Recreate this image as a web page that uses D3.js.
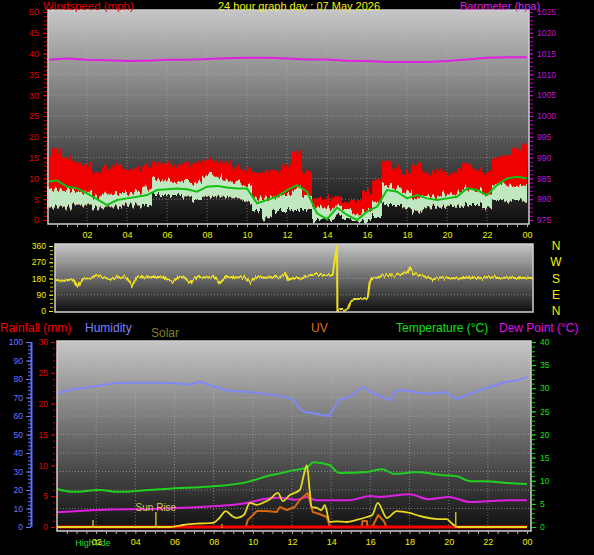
<!DOCTYPE html>
<html>
<head>
<meta charset="utf-8">
<script src="https://cdn.jsdelivr.net/npm/d3@7"></script>
<style>
  body { margin: 0; background: #000; }
  svg { display: block; font-family: "Liberation Sans", Arial, sans-serif; }
</style>
</head>
<body>
<div class="chart"></div>
<script>
// ---- data ----
var title = "24 hour graph day : 07 May 2026";

// top panel, half hourly 00:00 .. 24:00 (mph)
var halfHours = d3.range(0, 24.5, 0.5);
var gust = [16,17,14.8,14,13.2,11.6,12.8,13.2,12.4,12.4,12.8,13.6,14,13.2,13.6,14,14.4,14,13.6,12.8,12.4,10.8,11.6,11.6,13.2,16.4,11.6,5.2,5.2,5.6,4.4,4.8,6.8,9.2,14,12.4,11.6,13.2,11.6,12,11.6,11.6,13.2,12.4,11.6,14.8,15.6,17.2,18];
var windHi = [8,7.5,7.2,7,6.8,5.6,6.4,6.5,6.5,6.8,7.6,9.6,10,9.2,9.4,9.2,10.8,10.4,9.2,9.2,8.4,5.2,5.2,5.6,6,7.6,6,3.2,2.8,3.2,2.4,1.6,2.4,4.4,8.4,7.6,6.8,5.2,6,5.6,6.4,6.4,7.6,7.2,6.4,8.4,8.8,8.4,8.4];
var windLo = [3,3,3,3.5,3.5,2.8,3,3,3.5,3.5,3.6,6,6,6,5.6,4.8,5.6,5.6,5.6,5.2,4.4,2.4,0.4,2.4,2.4,2.4,2.4,0,0,0.8,0,0,0,1.2,3.6,3.6,2.8,2,2.8,3.2,3.2,3.2,3.6,3.6,2.8,4.8,4.4,4.8,4.4];
var windAvg = [9.2,9.5,8,7.6,6.4,5,3.6,4.8,5.2,5.6,6,7.2,7.4,7.6,7.4,6.8,8,8.2,7.8,7.6,7.6,4,4.8,5.6,7.2,8.4,6.8,1.6,0.2,3,1.2,0,2,3.2,7.2,6.8,5.2,6,5.2,4.8,5.2,5.6,7.6,7.2,6,8.4,10,10.4,10];

// barometer, hourly (hpa)
var hours = d3.range(0, 25, 1);
var baro = [1013.5,1013.8,1013.5,1013.4,1013.2,1013.3,1013.5,1013.5,1013.7,1013.9,1014.0,1014.0,1013.8,1013.6,1013.6,1013.3,1013.2,1013.0,1013.0,1013.0,1013.2,1013.6,1014.0,1014.1,1014.1];

// wind direction [hour, degrees]
var windDir = [[0,172],[0.5,168],[0.9,176],[1.15,135],[1.4,178],[1.8,182],[2.1,200],[2.4,186],[2.8,176],[3.2,188],[3.6,184],[3.87,138],[4.1,190],[4.6,186],[5.1,190],[5.5,184],[5.92,160],[6.2,190],[6.5,186],[6.78,155],[7.1,190],[7.6,186],[8.0,190],[8.28,155],[8.6,190],[9.1,186],[9.5,190],[9.79,160],[10.1,188],[10.6,184],[11.0,190],[11.3,186],[11.55,210],[11.7,172],[12.0,184],[12.4,180],[12.8,200],[13.3,200],[13.95,200],[14.06,293],[14.16,360],[14.18,0],[14.4,5],[14.7,8],[14.85,50],[15.0,66],[15.4,68],[15.7,72],[15.8,155],[15.9,183],[16.2,186],[16.6,200],[17.0,195],[17.4,205],[17.7,215],[17.8,238],[18.0,205],[18.3,200],[18.6,190],[19.0,176],[19.3,186],[19.8,183],[20.3,180],[20.8,186],[21.3,182],[21.8,188],[22.3,183],[22.8,186],[23.3,182],[23.8,185],[24,182]];
var compass = ["N","W","S","E","N"];
var compassDeg = [360,270,180,90,0];

// bottom panel [hour, value]
var humidity = [[0,72.4],[0.8,74.5],[1.7,75.7],[3,77.8],[4.2,78],[5.5,78],[6.8,77],[7.3,78.5],[8.1,75.7],[8.8,73.5],[9.9,73],[10.6,72],[11.4,71],[12.1,68.6],[12.4,63.8],[12.7,62],[13.1,61.6],[13.5,60.5],[13.9,60],[14.4,68.6],[15,70.8],[15.6,75.7],[16.2,72],[17,68.6],[17.35,74],[18,73.5],[18.5,72.4],[19,72],[19.8,73],[20.4,69.2],[21.1,72],[21.9,75],[22.9,78.4],[23.6,79.5],[24,81]];
var temperature = [[0,8.2],[0.8,7.6],[2.2,8],[3.1,7.6],[4.7,8],[6,8.4],[7.3,8.6],[8.3,8.9],[9.7,9.7],[10.9,11.2],[11.5,11.7],[12.1,12.3],[12.75,12.8],[13.1,14],[13.9,13.4],[14.4,11.7],[15.8,11.9],[16.6,12.5],[17.2,11.5],[18.4,11.9],[19.7,11.2],[20.4,11],[21.1,9.9],[21.9,9.9],[23,9.5],[24,9.3]];
var dewPoint = [[0,3.2],[2.2,3.7],[4.7,3.9],[7.3,4.3],[9.7,5.2],[10.5,6],[11.4,6.3],[12.2,5.9],[12.8,6.5],[13.2,5.8],[13.9,5.8],[14.9,5.8],[16,6.7],[16.5,6.5],[18,7.1],[19,6],[20,6.5],[21.1,5.4],[22.1,5.6],[23.1,5.8],[24,5.8]];
var solar = [[0,0],[5.77,0],[6.28,8],[6.79,16],[7.3,19],[7.96,22],[8.3,50],[8.62,86],[8.93,60],[9.18,49],[9.54,65],[9.85,130],[10.2,120],[10.5,130],[10.87,150],[11.28,184],[11.53,140],[11.89,173],[12.4,200],[12.6,280],[12.76,335],[12.9,200],[13.0,108],[13.27,103],[13.5,90],[13.67,118],[13.93,27],[14.29,30],[14.8,27],[15.3,38],[15.82,54],[16.1,65],[16.38,130],[16.84,49],[17.35,86],[18.0,76],[18.5,60],[19.5,43],[19.9,43],[20.15,20],[20.45,0],[24,0]];
var uv = [[0,0],[9.64,0],[9.74,0.38],[10.2,0.86],[10.7,0.86],[11.22,0.81],[11.38,1.08],[11.73,0.92],[12.14,1.08],[12.4,1.46],[12.8,1.84],[13.06,0.81],[13.4,0.7],[13.78,0.54],[13.93,0],[15.56,0],[15.6,0.32],[15.82,0.32],[15.86,0],[16.1,0],[16.4,0.65],[16.7,0.3],[16.82,0],[24,0]];
var rainfall = [[0,0],[24,0]];
var events = [
  { hour: 1.84, kind: "tide", label: "HighTide" },
  { hour: 5.05, kind: "sun", label: "Sun Rise" },
  { hour: 8.42, kind: "low", label: "" },
  { hour: 20.36, kind: "sun", label: "" }
];

// ---- drawing ----
var svg = d3.select(".chart").append("svg")
  .attr("width", 594)
  .attr("height", 555);

var defs = svg.append("defs");
var grad = defs.append("linearGradient")
  .attr("id", "panelBg")
  .attr("x1", 0).attr("y1", 0).attr("x2", 0).attr("y2", 1);
grad.append("stop").attr("offset", "0%").attr("stop-color", "#c6c6c6");
grad.append("stop").attr("offset", "50%").attr("stop-color", "#6a6a6a");
grad.append("stop").attr("offset", "100%").attr("stop-color", "#0e0e0e");

// jagged look for the noisy sensor data
function jagFilter(id, freq, scale, seed) {
  var f = defs.append("filter").attr("id", id)
    .attr("x", "-0.02").attr("y", "-0.3").attr("width", "1.04").attr("height", "1.6");
  f.append("feTurbulence").attr("type", "fractalNoise")
    .attr("baseFrequency", freq).attr("numOctaves", 1).attr("seed", seed).attr("result", "n");
  f.append("feColorMatrix").attr("in", "n").attr("type", "matrix")
    .attr("values", "1 0 0 0 0  0 0 0 0 0.5  0 0 1 0 0  0 0 0 0 1").attr("result", "m");
  f.append("feDisplacementMap").attr("in", "SourceGraphic").attr("in2", "m")
    .attr("scale", scale).attr("xChannelSelector", "G").attr("yChannelSelector", "R");
}
jagFilter("jag", "0.4 0.02", 15, 7);
jagFilter("jagDir", "0.5 0.05", 7, 3);

function styleAxis(g, color, size) {
  g.select(".domain").remove();
  g.selectAll("line").attr("stroke", color);
  g.selectAll("text").attr("fill", color).style("font-size", (size || 9) + "px");
}

function hourFmt(h) {
  return d3.format("02")(h % 24);
}

function panel(x, y, w, h) {
  svg.append("rect")
    .attr("x", x).attr("y", y).attr("width", w).attr("height", h)
    .attr("fill", "url(#panelBg)");
}

function frame(x, y, w, h) {
  svg.append("rect")
    .attr("x", x).attr("y", y).attr("width", w).attr("height", h)
    .attr("fill", "none")
    .attr("stroke", "#d0d0d0")
    .attr("stroke-width", 1.5);
}

function grid(xs, ys, xScale, yScale, x0, x1, y0, y1) {
  var gg = svg.append("g")
    .attr("stroke", "#b8b8b8")
    .attr("stroke-opacity", 0.55)
    .attr("stroke-dasharray", "1,2");
  gg.selectAll(".vg").data(xs).enter().append("line")
    .attr("x1", d => xScale(d)).attr("x2", d => xScale(d))
    .attr("y1", y0).attr("y2", y1);
  gg.selectAll(".hg").data(ys).enter().append("line")
    .attr("x1", x0).attr("x2", x1)
    .attr("y1", d => yScale(d)).attr("y2", d => yScale(d));
}

// ================= top panel =================
var xTop = d3.scaleLinear().domain([0, 24]).range([47, 527]);
var yWind = d3.scaleLinear().domain([0, 50]).range([220, 12]);
var yBaro = d3.scaleLinear().domain([975, 1025]).range([220, 12]);

panel(48, 10, 481, 214);
grid(d3.range(2, 24, 2), d3.range(5, 50, 5), xTop, yWind, 48, 529, 10, 224);

var topData = halfHours.map((h, i) => ({ h: h, gust: gust[i], hi: windHi[i], lo: windLo[i], avg: windAvg[i] }));

var windG = svg.append("g").attr("filter", "url(#jag)");
windG.append("path")
  .datum(topData)
  .attr("fill", "#f00000")
  .attr("d", d3.area().curve(d3.curveStep)
    .x(d => xTop(d.h))
    .y0(d => yWind(d.lo))
    .y1(d => yWind(d.gust)));
windG.append("path")
  .datum(topData)
  .attr("fill", "#c0e8c0")
  .attr("d", d3.area().curve(d3.curveStep)
    .x(d => xTop(d.h))
    .y0(d => yWind(d.lo))
    .y1(d => yWind(d.hi)));

svg.append("path")
  .datum(topData)
  .style("fill", "none")
  .attr("stroke", "#10c010")
  .attr("stroke-width", 2)
  .attr("d", d3.line().x(d => xTop(d.h)).y(d => yWind(d.avg)));

svg.append("path")
  .datum(hours.map((h, i) => [h, baro[i]]))
  .style("fill", "none")
  .attr("stroke", "#e020e0")
  .attr("stroke-width", 2)
  .attr("d", d3.line().x(d => xTop(d[0])).y(d => yBaro(d[1])));

frame(48, 10, 481, 214);

// axes
svg.append("g").attr("transform", "translate(47,0)")
  .call(d3.axisLeft(yWind).tickValues(d3.range(0, 51, 1)).tickSize(3).tickFormat(""))
  .call(g => styleAxis(g, "#d00000"));
svg.append("g").attr("transform", "translate(47,0)")
  .call(d3.axisLeft(yWind).tickValues(d3.range(0, 51, 5)).tickSize(4).tickPadding(4))
  .call(g => styleAxis(g, "#e00000"));

svg.append("g").attr("transform", "translate(530,0)")
  .call(d3.axisRight(yBaro).tickValues(d3.range(975, 1026, 1)).tickSize(3).tickFormat(""))
  .call(g => styleAxis(g, "#c000c0"));
svg.append("g").attr("transform", "translate(530,0)")
  .call(d3.axisRight(yBaro).tickValues(d3.range(975, 1026, 5)).tickSize(3).tickPadding(4).tickFormat(d3.format("d")))
  .call(g => styleAxis(g, "#c010d0", 8.5));

svg.append("g").attr("transform", "translate(0,224)")
  .call(d3.axisBottom(xTop).tickValues(d3.range(0.5, 24.5, 0.5)).tickSize(3).tickFormat(""))
  .call(g => styleAxis(g, "#b0b0b0"));
svg.append("g").attr("transform", "translate(0,224)")
  .call(d3.axisBottom(xTop).tickValues(d3.range(2, 25, 2)).tickSize(0).tickPadding(8).tickFormat(hourFmt))
  .call(g => styleAxis(g, "#f0f000"));

// titles
svg.append("text").attr("x", 43).attr("y", 10).attr("fill", "#e00000")
  .style("font-size", "11.5px").text("Windspeed (mph)");
svg.append("text").attr("x", 218).attr("y", 10).attr("fill", "#f0f000")
  .style("font-size", "11px").text(title);
svg.append("text").attr("x", 460).attr("y", 10).attr("fill", "#e020e0")
  .style("font-size", "11px").text("Barometer (hpa)");

// ================= wind direction panel =================
var xMid = d3.scaleLinear().domain([0, 24]).range([55, 533]);
var yDir = d3.scaleLinear().domain([0, 360]).range([311, 246]);

panel(55, 244, 478, 68);
grid([], [90, 180, 270], xMid, yDir, 55, 533, 244, 312);

svg.append("path")
  .datum(windDir)
  .style("fill", "none")
  .attr("stroke", "#f0e020")
  .attr("stroke-width", 2)
  .attr("filter", "url(#jagDir)")
  .attr("d", d3.line().x(d => xMid(d[0])).y(d => yDir(d[1])));

frame(55, 244, 478, 68);

svg.append("g").attr("transform", "translate(53,0)")
  .call(d3.axisLeft(yDir).tickValues(d3.range(0, 361, 22.5)).tickSize(3).tickFormat(""))
  .call(g => styleAxis(g, "#c8c000"));
svg.append("g").attr("transform", "translate(53,0)")
  .call(d3.axisLeft(yDir).tickValues([0, 90, 180, 270, 360]).tickSize(4).tickPadding(3))
  .call(g => styleAxis(g, "#f0f000", 8.5));

svg.selectAll(".compass").data(compass).enter().append("text")
  .attr("x", 556)
  .attr("y", (d, i) => yDir(compassDeg[i]) + 4)
  .attr("text-anchor", "middle")
  .attr("fill", "#f0f000")
  .style("font-size", "12px")
  .text(d => d);

// ================= bottom panel =================
var xBot = d3.scaleLinear().domain([0, 24]).range([57, 527]);
var yHum = d3.scaleLinear().domain([0, 100]).range([527, 342]);
var yRain = d3.scaleLinear().domain([0, 30]).range([527, 342]);
var yTemp = d3.scaleLinear().domain([0, 40]).range([527, 342]);
var ySolar = d3.scaleLinear().domain([0, 1000]).range([527, 342]);
var yUV = d3.scaleLinear().domain([0, 10]).range([527, 342]);

panel(57, 341, 474, 190);
grid(d3.range(2, 24, 2), d3.range(10, 100, 10), xBot, yHum, 57, 531, 341, 531);

function lineOf(scale) {
  return d3.line().x(d => xBot(d[0])).y(d => scale(d[1]));
}

function series(data, scale, color, width, curve) {
  svg.append("path").datum(data)
    .style("fill", "none")
    .attr("stroke", color)
    .attr("stroke-width", width)
    .attr("stroke-linejoin", "round")
    .attr("d", lineOf(scale).curve(curve || d3.curveLinear));
}

series(humidity, yHum, "#8088f8", 2);
series(temperature, yTemp, "#20d020", 2, d3.curveMonotoneX);
series(dewPoint, yTemp, "#e020e0", 2, d3.curveMonotoneX);
series(uv, yUV, "#d86810", 2);
series(rainfall, yRain, "#ff0000", 3);
series(solar, ySolar, "#e8d820", 1.8, d3.curveMonotoneX);

// sun / tide markers
var markLen = { tide: 8, sun: 16, low: 4 };
svg.selectAll(".ev").data(events).enter().append("line")
  .attr("x1", d => xBot(d.hour)).attr("x2", d => xBot(d.hour))
  .attr("y1", 528).attr("y2", d => 528 - markLen[d.kind])
  .attr("stroke", d => d.kind === "low" ? "#f0c000" : "#c8b820")
  .attr("stroke-width", 1.5)
  .attr("stroke-dasharray", d => d.kind === "low" ? "1.5,1" : null);
svg.selectAll(".evl").data(events.filter(d => d.kind === "sun" && d.label)).enter().append("text")
  .attr("x", d => xBot(d.hour))
  .attr("y", 511)
  .attr("text-anchor", "middle")
  .attr("fill", "#d8c850")
  .style("font-size", "10px")
  .text(d => d.label);

frame(57, 341, 474, 190);

// left axes
svg.append("g").attr("transform", "translate(31,0)")
  .call(d3.axisLeft(yHum).tickValues(d3.range(0, 101, 2)).tickSize(3).tickFormat(""))
  .call(g => styleAxis(g, "#6070ff"));
svg.append("g").attr("transform", "translate(31,0)")
  .call(d3.axisLeft(yHum).tickValues(d3.range(0, 101, 10)).tickSize(5).tickPadding(3))
  .call(g => styleAxis(g, "#6878ff", 8.5));
svg.append("line").attr("x1", 31.5).attr("x2", 31.5).attr("y1", yHum(100)).attr("y2", yHum(0))
  .attr("stroke", "#6070ff").attr("stroke-width", 2);

svg.append("g").attr("transform", "translate(55,0)")
  .call(d3.axisLeft(yRain).tickValues(d3.range(0, 31, 1)).tickSize(2).tickFormat(""))
  .call(g => styleAxis(g, "#c00000"));
svg.append("g").attr("transform", "translate(55,0)")
  .call(d3.axisLeft(yRain).tickValues(d3.range(0, 31, 5)).tickSize(4).tickPadding(3))
  .call(g => styleAxis(g, "#e00000", 8.5));

// right axis
svg.append("g").attr("transform", "translate(532,0)")
  .call(d3.axisRight(yTemp).tickValues(d3.range(0, 41, 1)).tickSize(3).tickFormat(""))
  .call(g => styleAxis(g, "#10c010"));
svg.append("g").attr("transform", "translate(532,0)")
  .call(d3.axisRight(yTemp).tickValues(d3.range(0, 41, 5)).tickSize(4).tickPadding(4))
  .call(g => styleAxis(g, "#10e010", 8.5));

// time axis, the tide label sits under the 02 label as on the station graph
svg.append("g").attr("transform", "translate(0,531)")
  .call(d3.axisBottom(xBot).tickValues(d3.range(0.5, 24.5, 0.5)).tickSize(3).tickFormat(""))
  .call(g => styleAxis(g, "#b0b0b0"));
svg.selectAll(".tideLabel").data(events.filter(d => d.kind === "tide")).enter().append("text")
  .attr("x", d => xBot(d.hour))
  .attr("y", 546)
  .attr("text-anchor", "middle")
  .attr("fill", "#30d030")
  .style("font-size", "9px")
  .text(d => d.label);
svg.append("g").attr("transform", "translate(0,531)")
  .call(d3.axisBottom(xBot).tickValues(d3.range(2, 25, 2)).tickSize(0).tickPadding(8).tickFormat(hourFmt))
  .call(g => styleAxis(g, "#f0f000"));

// legend row
var legend = [
  { t: "Rainfall (mm)", x: 0, y: 332, c: "#f00000" },
  { t: "Humidity", x: 85, y: 332, c: "#7880ff" },
  { t: "Solar", x: 151, y: 337, c: "#808020" },
  { t: "UV", x: 311, y: 332, c: "#e07010" },
  { t: "Temperature (\u00b0C)", x: 396, y: 332, c: "#10e010" },
  { t: "Dew Point (\u00b0C)", x: 499, y: 332, c: "#e010e0" }
];
svg.selectAll(".leg").data(legend).enter().append("text")
  .attr("x", d => d.x).attr("y", d => d.y)
  .attr("fill", d => d.c)
  .style("font-size", "12px")
  .text(d => d.t);
</script>
</body>
</html>
